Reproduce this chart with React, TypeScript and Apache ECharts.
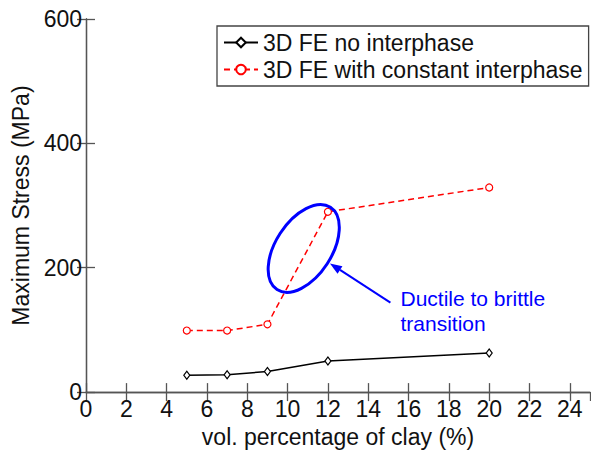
import React, { useEffect, useRef } from "react";
import * as echarts from "echarts";

const clayPercent = [5, 7, 9, 12, 20];
const noInterphase = [27, 28, 33, 50, 63];
const constantInterphase = [99, 99, 109, 290, 329];
const seriesNames = ["3D FE no interphase", "3D FE with constant interphase"];
const annotationText = "Ductile to brittle\ntransition";
const ellipseCenter = [10.8, 231];
const arrowTail = [15.1, 144];
const arrowHead = [12.1, 207];
const annotationAnchor = [15.6, 131];

const FONT = "Liberation Sans, Arial, sans-serif";
const AXIS_COLOR = "#555";

export default function App() {
  const ref = useRef<HTMLDivElement>(null);
  useEffect(() => {
    if (!ref.current) return;
    const chart = echarts.init(ref.current, null, { renderer: "svg" });
    const axisCommon = {
      axisLine: { lineStyle: { color: AXIS_COLOR, width: 1.3 } },
      axisTick: { inside: true, length: 9, lineStyle: { color: AXIS_COLOR, width: 1.3 } },
      splitLine: { show: false },
    };
    chart.setOption({
      animation: false,
      textStyle: { fontFamily: FONT },
      grid: { left: 86, top: 19, right: 1, bottom: 55, containLabel: false },
      legend: {
        orient: "vertical",
        left: 217,
        top: 26,
        padding: [5, 6, 5, 6],
        itemGap: 4,
        itemWidth: 34,
        itemHeight: 12,
        borderColor: "#444",
        borderWidth: 1.3,
        backgroundColor: "#fff",
        textStyle: { fontSize: 23, color: "#111", fontFamily: FONT },
        data: seriesNames,
      },
      xAxis: [
        {
          type: "value",
          min: 0,
          max: 25,
          interval: 2,
          position: "bottom",
          name: "vol. percentage of clay (%)",
          nameLocation: "middle",
          nameGap: 27,
          nameTextStyle: { fontSize: 23, color: "#111", fontFamily: FONT },
          axisLabel: { fontSize: 23, color: "#111", margin: 5, showMaxLabel: false },
          ...axisCommon,
        },
        {
          type: "value",
          min: 0,
          max: 25,
          interval: 2,
          position: "top",
          axisLabel: { show: false },
          ...axisCommon,
        },
      ],
      yAxis: [
        {
          type: "value",
          min: 0,
          max: 600,
          interval: 200,
          position: "left",
          name: "Maximum Stress (MPa)",
          nameLocation: "middle",
          nameGap: 52,
          nameTextStyle: { fontSize: 23, color: "#111", fontFamily: FONT },
          axisLabel: { fontSize: 23, color: "#111", margin: 4 },
          ...axisCommon,
        },
        {
          type: "value",
          min: 0,
          max: 600,
          interval: 200,
          position: "right",
          axisLabel: { show: false },
          ...axisCommon,
        },
      ],
      series: [
        {
          name: seriesNames[0],
          type: "line",
          data: clayPercent.map((x, i) => [x, noInterphase[i]]),
          symbol: "diamond",
          symbolSize: [6, 8],
          showAllSymbol: true,
          lineStyle: { color: "#000", width: 1.5 },
          itemStyle: { color: "#fff", borderColor: "#000", borderWidth: 1.2 },
        },
        {
          name: seriesNames[1],
          type: "line",
          data: clayPercent.map((x, i) => [x, constantInterphase[i]]),
          symbol: "circle",
          symbolSize: 7,
          showAllSymbol: true,
          lineStyle: { color: "#ff0000", width: 1.5, type: [6, 4] },
          itemStyle: { color: "#fff", borderColor: "#ff0000", borderWidth: 1.2 },
        },
      ],
    });

    const toPx = (p: number[]) =>
      chart.convertToPixel({ xAxisIndex: 0, yAxisIndex: 0 }, p) as number[];
    const c = toPx(ellipseCenter);
    const t = toPx(arrowTail);
    const h = toPx(arrowHead);
    const a = toPx(annotationAnchor);
    const dx = h[0] - t[0];
    const dy = h[1] - t[1];
    const len = Math.sqrt(dx * dx + dy * dy);
    const ux = dx / len;
    const uy = dy / len;
    const headLen = 12;
    const headHalf = 4.5;
    const bx = h[0] - ux * headLen;
    const by = h[1] - uy * headLen;
    const blue = "#0000ff";

    chart.setOption({
      graphic: [
        {
          type: "ellipse",
          x: c[0],
          y: c[1],
          rotation: (57 * Math.PI) / 180,
          shape: { cx: 0, cy: 0, rx: 49, ry: 28 },
          style: { fill: "none", stroke: blue, lineWidth: 3 },
          z: 10,
        },
        {
          type: "line",
          shape: { x1: t[0], y1: t[1], x2: bx, y2: by },
          style: { stroke: blue, lineWidth: 2 },
          z: 10,
        },
        {
          type: "polygon",
          shape: {
            points: [
              [h[0], h[1]],
              [bx - uy * headHalf, by + ux * headHalf],
              [bx + uy * headHalf, by - ux * headHalf],
            ],
          },
          style: { fill: blue },
          z: 10,
        },
        {
          type: "text",
          x: a[0],
          y: a[1],
          style: {
            text: annotationText,
            fill: blue,
            fontSize: 21,
            fontFamily: FONT,
            lineHeight: 25,
            align: "left",
            verticalAlign: "middle",
          },
          z: 10,
        },
      ],
    });
    return () => chart.dispose();
  }, []);
  return (
    <div
      ref={ref}
      style={{ position: "fixed", left: 0, top: 0, width: 591, height: 453, background: "#fff" }}
    />
  );
}
